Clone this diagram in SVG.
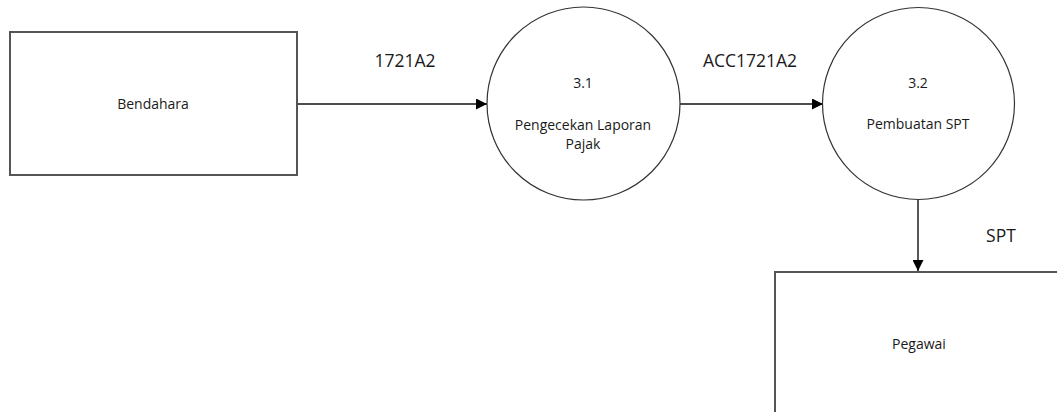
<svg xmlns="http://www.w3.org/2000/svg" width="1057" height="412" viewBox="0 0 1057 412">
<defs>
<style>
text{font-family:"Open Sans","Liberation Sans",Arial,sans-serif;fill:#1a1a1a;text-anchor:middle}
.n{font-size:14px}
.l{font-size:17.5px}
.ent{fill:#fff;stroke:#555;stroke-width:2}
.proc{fill:#fff;stroke:#333;stroke-width:1.2}
.c{stroke:#111;stroke-width:1.4;fill:none}
</style>
<marker id="ah" viewBox="0 0 10 10" refX="10" refY="5" markerWidth="11" markerHeight="11" markerUnits="userSpaceOnUse" orient="auto">
<path d="M0,0 L10,5 L0,10 Z" fill="#000"/>
</marker>
</defs>
<rect width="1057" height="412" fill="#fff"/>
<g id="connectors">
<line class="c" x1="297" y1="104" x2="487" y2="104" marker-end="url(#ah)"/>
<line class="c" x1="680" y1="104" x2="823" y2="104" marker-end="url(#ah)"/>
<line class="c" x1="918" y1="200" x2="918" y2="271" marker-end="url(#ah)"/>
<text class="l" x="405" y="67">1721A2</text>
<text class="l" x="750" y="67">ACC1721A2</text>
<text class="l" x="1001" y="242">SPT</text>
</g>
<g id="bendahara">
<rect class="ent" x="10" y="32" width="287" height="143"/>
<text class="n" x="153" y="109">Bendahara</text>
</g>
<g id="p31">
<circle class="proc" cx="583.5" cy="103.5" r="96.5"/>
<text class="n" x="583" y="88">3.1</text>
<text class="n" x="583" y="130">Pengecekan Laporan</text>
<text class="n" x="583" y="149">Pajak</text>
</g>
<g id="p32">
<circle class="proc" cx="918.5" cy="103.5" r="96"/>
<text class="n" x="918" y="88">3.2</text>
<text class="n" x="918" y="129">Pembuatan SPT</text>
</g>
<g id="pegawai">
<rect class="ent" x="775" y="272" width="300" height="160"/>
<text class="n" x="919" y="349">Pegawai</text>
</g>
</svg>
